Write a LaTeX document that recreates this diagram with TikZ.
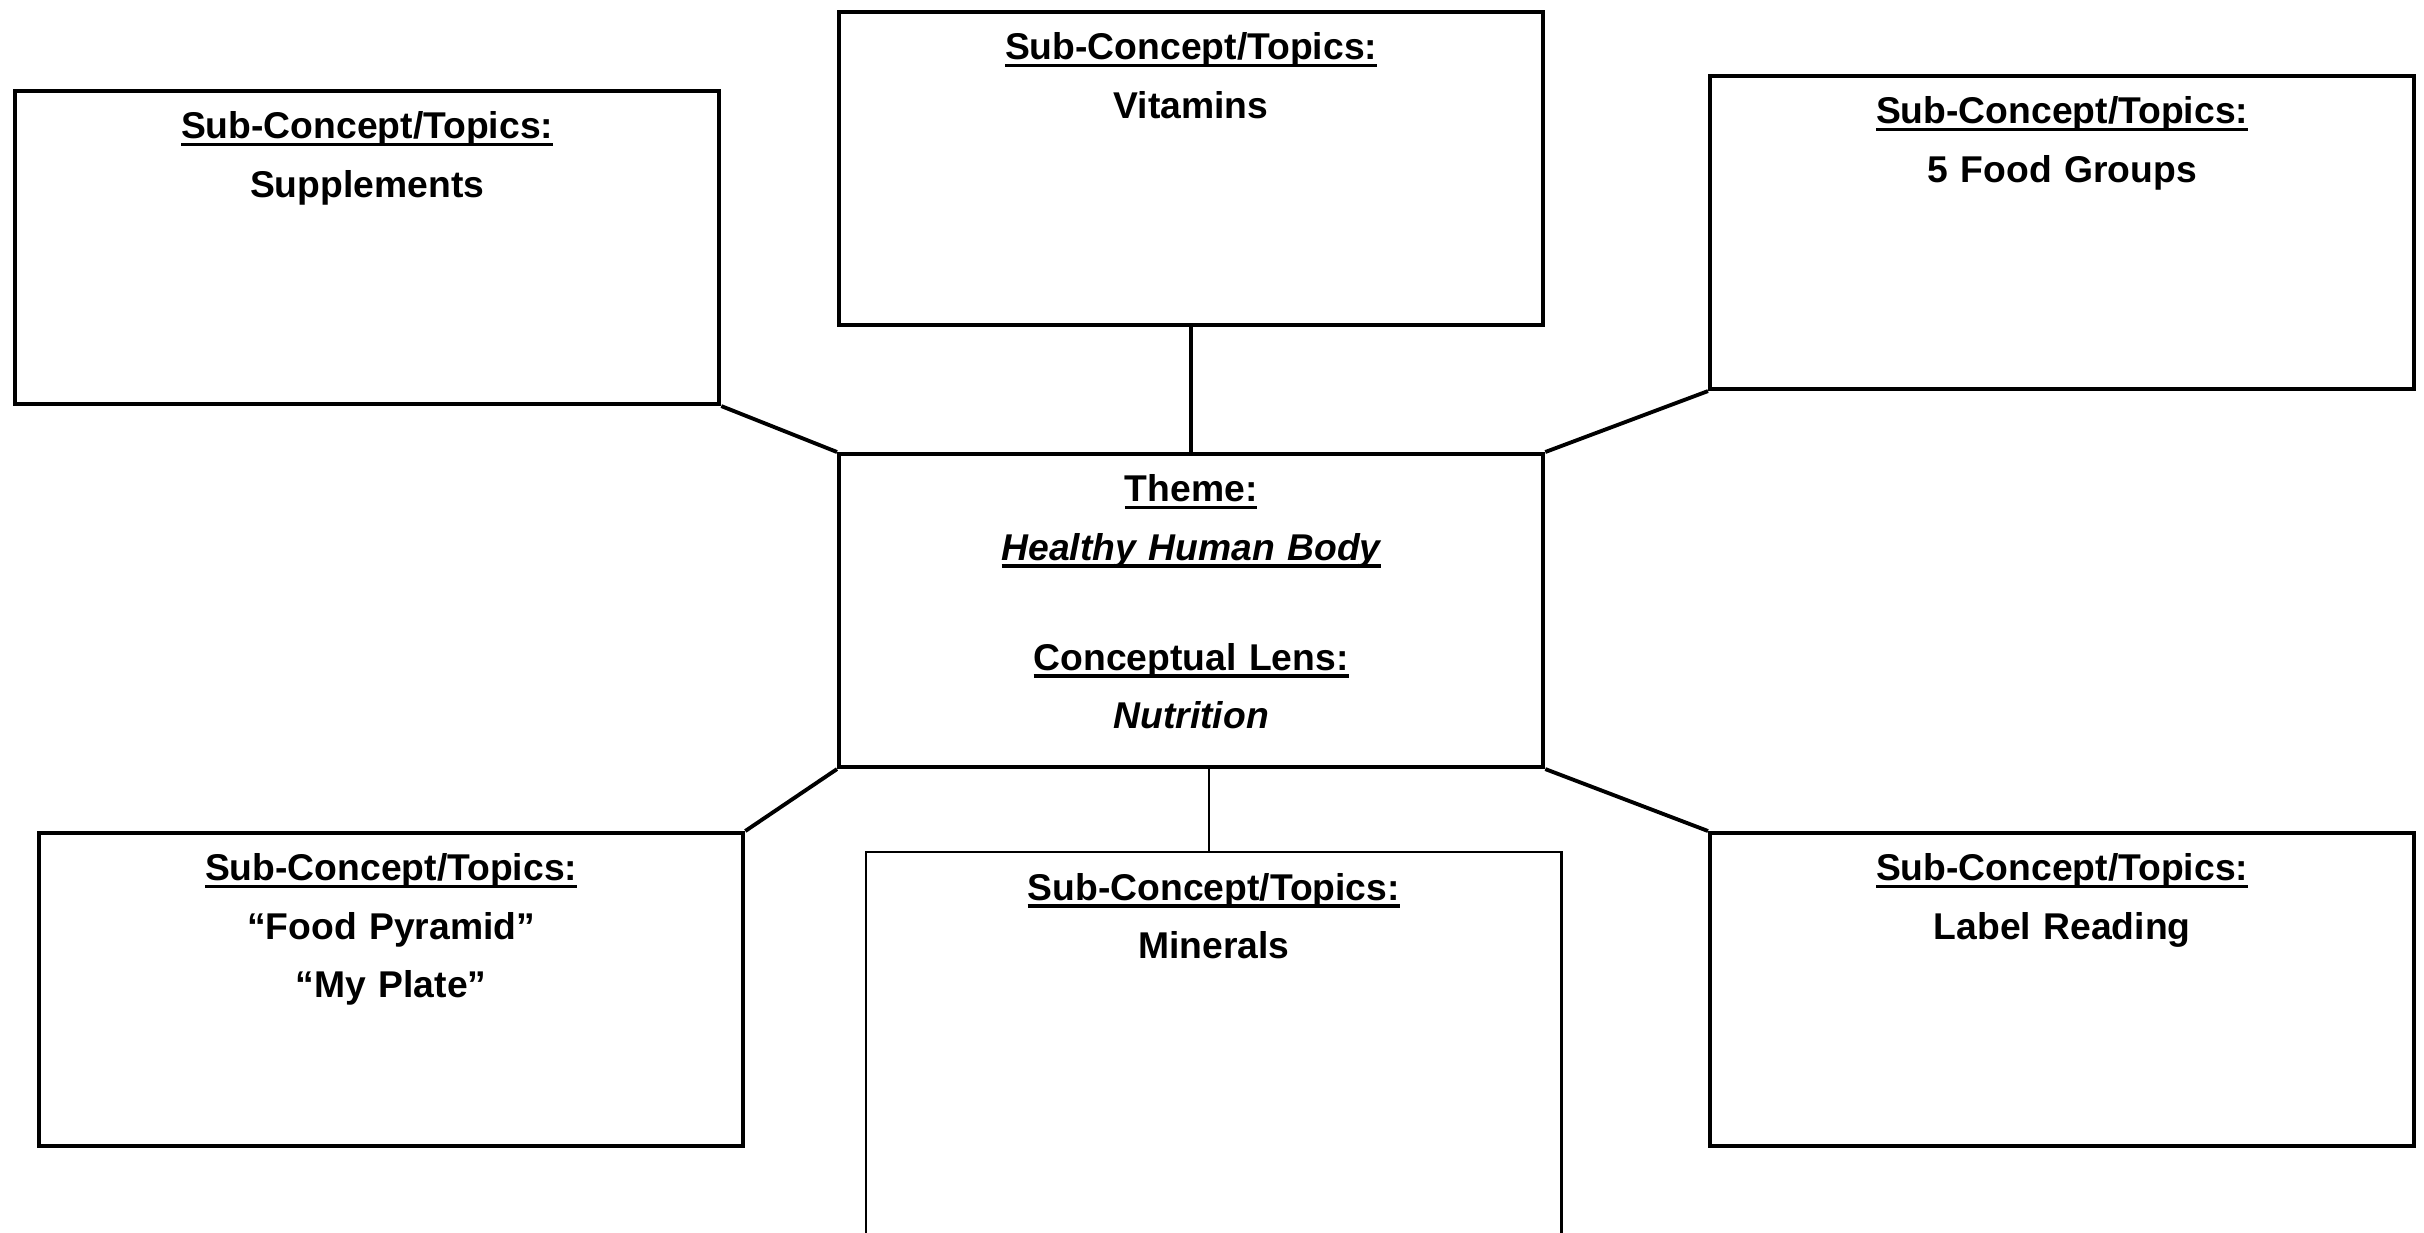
\documentclass[tikz,border=0pt]{standalone}
\usepackage{fontspec}
\setmainfont{Liberation Sans}
\usepackage{tikz}
\newcommand{\headul}[1]{\leavevmode\setbox0\hbox{#1}\rlap{\rule[-0.075cm]{\wd0}{0.035cm}}\box0}

\begin{document}
\begin{tikzpicture}[x=0.01cm, y=-0.01cm,
    topicbox/.style={draw, line width=1.1pt, anchor=north west, inner sep=0pt,
      minimum width=7.04cm, text width=7.04cm, align=center,
      text height=0.48cm, text depth=2.65cm,
      font=\fontsize{10.6pt}{0.58cm}\selectfont\bfseries}]
    \useasboundingbox (0,0) rectangle (2424,1232);
    \clip (0,0) rectangle (2424,1232);
    \node[topicbox] (t) at (837, 452) {\headul{Theme:}\\ \headul{\itshape Healthy Human Body}\\[0.52cm] \headul{Conceptual Lens:}\\ \itshape Nutrition};
    \node[topicbox] (s) at (13, 89) {\headul{Sub-Concept/Topics:}\\ Supplements};
    \node[topicbox] (v) at (837, 10) {\headul{Sub-Concept/Topics:}\\ Vitamins};
    \node[topicbox] (g) at (1708, 74) {\headul{Sub-Concept/Topics:}\\ 5 Food Groups};
    \node[topicbox] (p) at (37, 831) {\headul{Sub-Concept/Topics:}\\ “Food Pyramid”\\ “My Plate”};
    \node[topicbox, line width=0.6pt, minimum width=6.95cm, text width=6.95cm, text depth=3.46cm] (m) at (865, 851) {\headul{Sub-Concept/Topics:}\\ Minerals};
    \node[topicbox] (l) at (1708, 831) {\headul{Sub-Concept/Topics:}\\ Label Reading};
    \coordinate (tb) at ([xshift=0.175cm]t.south);
    \draw [line width=1.1pt] (s.south east) to (t.north west);
    \draw [line width=1.1pt] (v.south) to (t.north);
    \draw [line width=1.1pt] (g.south west) to (t.north east);
    \draw [line width=1.1pt] (t.south west) to (p.north east);
    \draw [line width=0.6pt] (tb) to (tb |- m.north);
    \draw [line width=1.1pt] (t.south east) to (l.north west);
\end{tikzpicture}
\end{document}
